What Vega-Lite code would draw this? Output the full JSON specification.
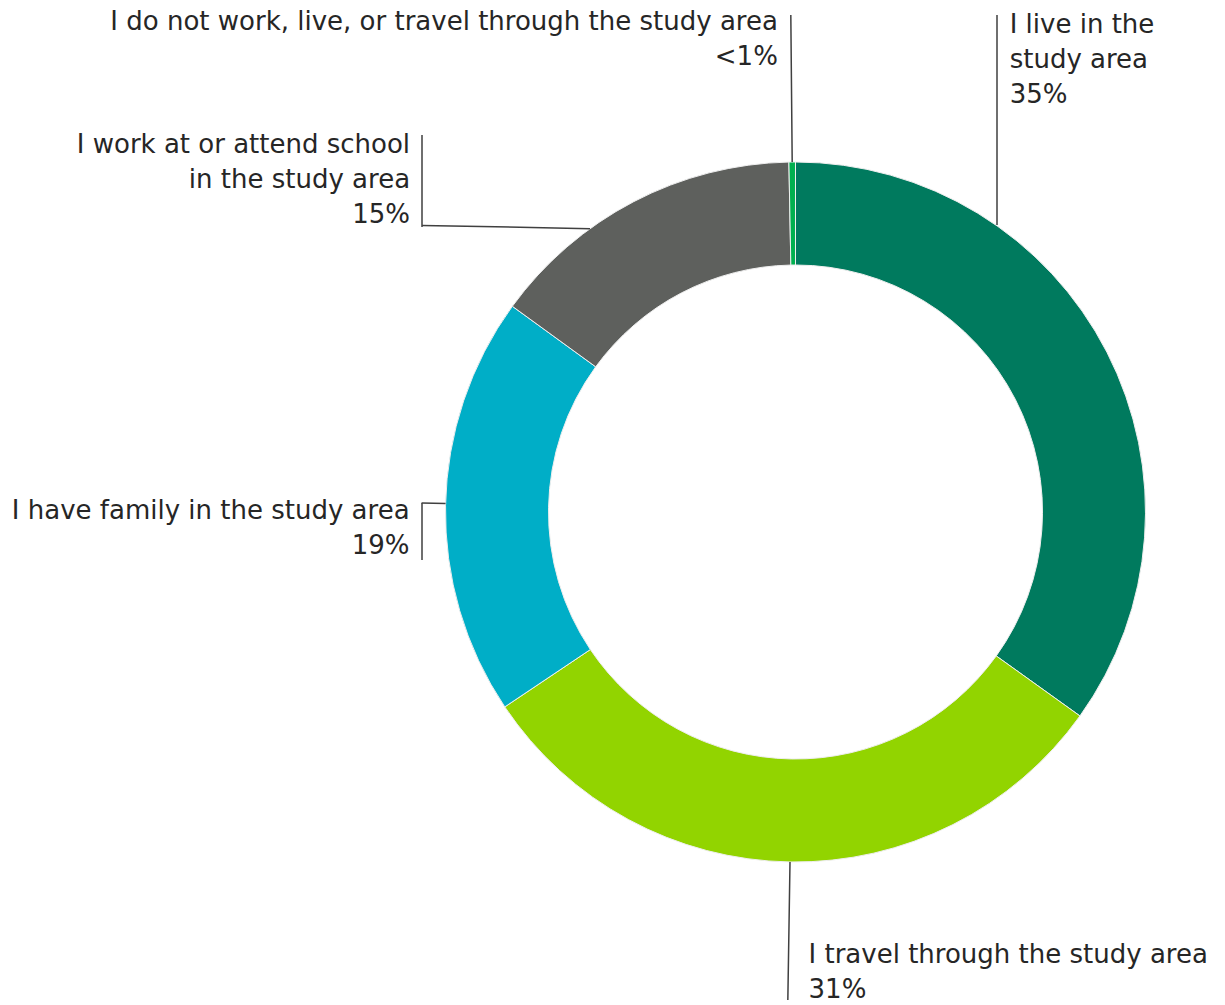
{
  "$schema": "https://vega.github.io/schema/vega-lite/v6.json",
  "autosize": {"type": "none"},
  "width": 859,
  "height": 986,
  "padding": {"left": 366, "top": 19, "right": 0, "bottom": 0},
  "background": "white",
  "config": {"view": {"stroke": null}},
  "data": {
    "values": [
      {"response": "I live in the study area", "share": 34.9, "rank": 1, "label": "I live in the\nstudy area\n35%"},
      {"response": "I travel through the study area", "share": 30.7, "rank": 2, "label": "I travel through the study area\n31%"},
      {"response": "I have family in the study area", "share": 19.4, "rank": 3, "label": "I have family in the study area\n19%"},
      {"response": "I work at or attend school in the study area", "share": 14.7, "rank": 4, "label": "I work at or attend school\nin the study area\n15%"},
      {"response": "I do not work, live, or travel through the study area", "share": 0.3, "rank": 5, "label": "I do not work, live, or travel through the study area\n<1%"}
    ]
  },
  "transform": [
    {"stack": "share", "groupby": [], "sort": [{"field": "rank", "order": "ascending"}], "as": ["share_start", "share_end"]}
  ],
  "layer": [
    {
      "mark": {"type": "arc", "innerRadius": 247, "outerRadius": 350, "stroke": "#eeeeee", "strokeWidth": 1},
      "encoding": {
        "theta": {"field": "share_start", "type": "quantitative", "scale": {"domain": [0, 100]}},
        "theta2": {"field": "share_end"},
        "color": {
          "field": "response", "type": "nominal", "legend": null,
          "scale": {
            "domain": ["I live in the study area", "I travel through the study area", "I have family in the study area", "I work at or attend school in the study area", "I do not work, live, or travel through the study area"],
            "range": ["#007A5E", "#92D400", "#00AEC7", "#5E605D", "#00B04F"]
          }
        }
      }
    },
    {
      "transform": [{"filter": "datum.rank == 5"}],
      "mark": {"type": "arc", "outerRadius": 497, "innerRadius": 350, "padAngle": 3.1416, "fill": null, "stroke": "#404040", "strokeWidth": 1.5},
      "encoding": {"theta": {"field": "share_start", "type": "quantitative"}, "theta2": {"field": "share_end"}}
    },
    {
      "transform": [{"filter": "datum.rank == 2"}],
      "mark": {"type": "arc", "outerRadius": 488, "innerRadius": 350, "padAngle": 3.1416, "fill": null, "stroke": "#404040", "strokeWidth": 1.5},
      "encoding": {"theta": {"field": "share_start", "type": "quantitative"}, "theta2": {"field": "share_end"}}
    },
    {
      "transform": [{"filter": "datum.rank == 3"}],
      "mark": {"type": "arc", "outerRadius": 374, "innerRadius": 350, "padAngle": 3.1416, "yOffset": -2, "fill": null, "stroke": "#404040", "strokeWidth": 1.5},
      "encoding": {"theta": {"field": "share_start", "type": "quantitative"}, "theta2": {"field": "share_end"}}
    },
    {
      "transform": [{"filter": "datum.rank == 1"}],
      "mark": {"type": "arc", "outerRadius": 497, "innerRadius": 287, "xOffset": 201.5, "fill": null, "stroke": "#404040", "strokeWidth": 1.5},
      "encoding": {"theta": {"field": "share_start", "type": "quantitative"}, "theta2": {"field": "share_start"}}
    },
    {
      "transform": [{"filter": "datum.rank == 1"}],
      "mark": {"type": "arc", "outerRadius": 92, "innerRadius": 0, "xOffset": -373.5, "yOffset": -285, "fill": null, "stroke": "#404040", "strokeWidth": 1.5},
      "encoding": {"theta": {"field": "share_start", "type": "quantitative"}, "theta2": {"field": "share_start"}}
    },
    {
      "transform": [{"filter": "datum.rank == 3"}],
      "mark": {"type": "arc", "outerRadius": 373.5, "innerRadius": 205.5, "padAngle": 3.1416, "yOffset": -279.5, "fill": null, "stroke": "#404040", "strokeWidth": 1.5},
      "encoding": {"theta": {"field": "share_start", "type": "quantitative"}, "theta2": {"field": "share_end"}}
    },
    {
      "transform": [{"filter": "datum.rank == 1"}],
      "mark": {"type": "arc", "outerRadius": 57, "innerRadius": 0, "xOffset": -373.5, "yOffset": 48, "fill": null, "stroke": "#404040", "strokeWidth": 1.5},
      "encoding": {"theta": {"field": "share_start", "type": "quantitative"}, "theta2": {"field": "share_start"}}
    },
    {
      "mark": {"type": "text", "radius": 397, "align": "left", "baseline": "middle", "dx": -139, "dy": -306, "font": "DejaVu Sans", "fontSize": 26, "lineHeight": 35, "lineBreak": "\n", "color": "#262626"},
      "encoding": {
        "theta": {"field": "share", "type": "quantitative", "stack": true},
        "order": {"field": "rank", "type": "quantitative"},
        "text": {"condition": {"test": "datum.rank == 1", "field": "label"}, "value": ""}
      }
    },
    {
      "mark": {"type": "text", "radius": 443, "align": "left", "baseline": "middle", "dx": 20, "dy": 0, "font": "DejaVu Sans", "fontSize": 26, "lineHeight": 35, "lineBreak": "\n", "color": "#262626"},
      "encoding": {
        "theta": {"field": "share", "type": "quantitative", "stack": true},
        "order": {"field": "rank", "type": "quantitative"},
        "text": {"condition": {"test": "datum.rank == 2", "field": "label"}, "value": ""}
      }
    },
    {
      "mark": {"type": "text", "radius": 386, "align": "right", "baseline": "middle", "dx": 0, "dy": 6, "font": "DejaVu Sans", "fontSize": 26, "lineHeight": 35, "lineBreak": "\n", "color": "#262626"},
      "encoding": {
        "theta": {"field": "share", "type": "quantitative", "stack": true},
        "order": {"field": "rank", "type": "quantitative"},
        "text": {"condition": {"test": "datum.rank == 3", "field": "label"}, "value": ""}
      }
    },
    {
      "mark": {"type": "text", "radius": 414, "align": "right", "baseline": "middle", "dx": -194, "dy": 0, "font": "DejaVu Sans", "fontSize": 26, "lineHeight": 35, "lineBreak": "\n", "color": "#262626"},
      "encoding": {
        "theta": {"field": "share", "type": "quantitative", "stack": true},
        "order": {"field": "rank", "type": "quantitative"},
        "text": {"condition": {"test": "datum.rank == 4", "field": "label"}, "value": ""}
      }
    },
    {
      "mark": {"type": "text", "radius": 490, "align": "right", "baseline": "middle", "dx": -13, "dy": 0, "font": "DejaVu Sans", "fontSize": 26, "lineHeight": 35, "lineBreak": "\n", "color": "#262626"},
      "encoding": {
        "theta": {"field": "share", "type": "quantitative", "stack": true},
        "order": {"field": "rank", "type": "quantitative"},
        "text": {"condition": {"test": "datum.rank == 5", "field": "label"}, "value": ""}
      }
    }
  ]
}
